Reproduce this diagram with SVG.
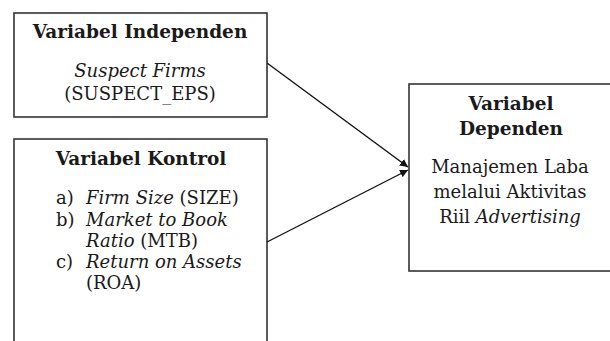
<svg xmlns="http://www.w3.org/2000/svg" width="610" height="341" viewBox="0 0 610 341">
<defs>
<style>
.box{fill:#fff;stroke:#333;stroke-width:1.6}
text{font-family:"DejaVu Serif","Liberation Serif",serif;font-size:18px;fill:#1a1a1a}
.b{font-weight:bold;font-size:18.5px}
.c{text-anchor:middle}
.i{font-style:italic}
.conn{stroke:#111;stroke-width:1.4;fill:none}
</style>
<marker id="ah" viewBox="0 0 10 10" refX="10" refY="5" markerWidth="8" markerHeight="8" markerUnits="userSpaceOnUse" orient="auto">
<path d="M0,0 L10,5 L0,10 z" fill="#111"/>
</marker>
</defs>
<rect x="0" y="0" width="610" height="341" fill="#fff"/>
<g id="independen">
<rect class="box" x="14" y="13" width="253" height="104"/>
<text class="b c" x="140" y="38">Variabel Independen</text>
<text class="i c" x="140" y="77">Suspect Firms</text>
<text class="c" x="140" y="100">(SUSPECT_EPS)</text>
</g>
<g id="kontrol">
<rect class="box" x="14" y="139" width="253" height="220"/>
<text class="b c" x="141" y="165">Variabel Kontrol</text>
<text x="56" y="204">a)</text><text x="86" y="204"><tspan class="i">Firm Size</tspan> (SIZE)</text>
<text x="56" y="226">b)</text><text class="i" x="86" y="226">Market to Book</text>
<text x="86" y="247"><tspan class="i">Ratio</tspan> (MTB)</text>
<text x="56" y="268">c)</text><text class="i" x="86" y="268">Return on Assets</text>
<text x="86" y="289">(ROA)</text>
</g>
<g id="dependen">
<rect class="box" x="409" y="84" width="220" height="187"/>
<text class="b c" x="511" y="110">Variabel</text>
<text class="b c" x="511" y="135">Dependen</text>
<text class="c" x="510" y="173">Manajemen Laba</text>
<text class="c" x="510" y="198">melalui Aktivitas</text>
<text class="c" x="510" y="223">Riil <tspan class="i">Advertising</tspan></text>
</g>
<g id="connectors">
<line class="conn" x1="267" y1="63" x2="408" y2="167" marker-end="url(#ah)"/>
<line class="conn" x1="267" y1="242" x2="408" y2="170" marker-end="url(#ah)"/>
</g>
</svg>
